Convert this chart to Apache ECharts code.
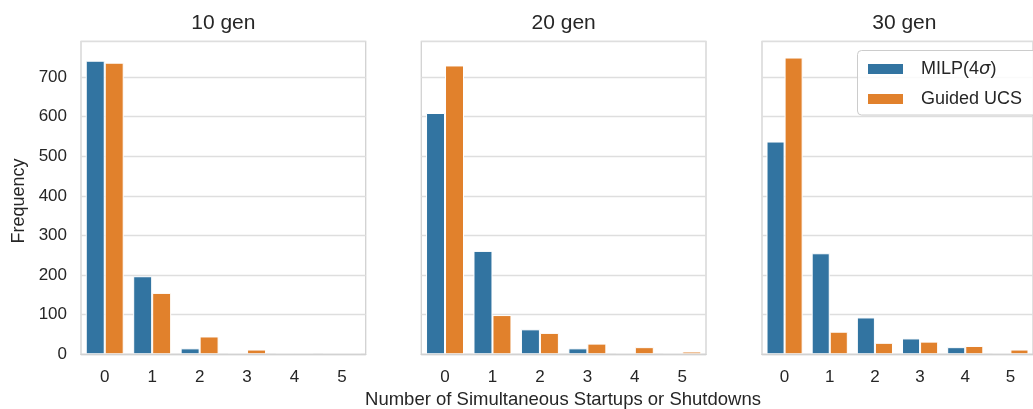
<!DOCTYPE html>
<html>
<head>
<meta charset="utf-8">
<script src="https://cdn.jsdelivr.net/npm/echarts@6/dist/echarts.min.js"></script>
<style>
  html, body { margin: 0; padding: 0; background: #ffffff; }
  #chart { width: 1033px; height: 409px; }
</style>
</head>
<body>
<div id="chart"></div>
<script>
// Number of simultaneous unit startups/shutdowns per hour
const categories = ['0', '1', '2', '3', '4', '5'];
const panelTitles = ['10 gen', '20 gen', '30 gen'];
const seriesNames = ['MILP(4σ)', 'Guided UCS'];

const milp10 = [741, 197, 15, 0, 0, 0];
const ucs10  = [736, 155, 45, 12, 0, 0];
const milp20 = [609, 261, 63, 15, 0, 0];
const ucs20  = [729, 99, 54, 27, 18, 7];
const milp30 = [537, 255, 93, 40, 18, 0];
const ucs30  = [749, 57, 29, 32, 21, 12];

const yTicks = [0, 100, 200, 300, 400, 500, 600, 700];

const panels = [
  { title: panelTitles[0], milp: milp10, ucs: ucs10 },
  { title: panelTitles[1], milp: milp20, ucs: ucs20 },
  { title: panelTitles[2], milp: milp30, ucs: ucs30 }
];

const FONT = '"Liberation Sans", Arial, sans-serif';
const TEXT = '#262626';
const GRIDLINE = '#dedede';
const SPINE = '#d2d2d2';
const COLORS = ['#3274a1', '#e1812c'];

const gridLefts = [81, 421.3, 762];
const gridWidth = 284.7;
const gridTop = 41.3;
const gridHeight = 313;

const grids = [], xAxes = [], yAxes = [], series = [], graphics = [];

panels.forEach((p, i) => {
  grids.push({
    left: gridLefts[i], top: gridTop, width: gridWidth, height: gridHeight,
    show: true, backgroundColor: '#ffffff', borderColor: SPINE, borderWidth: 1.3
  });
  xAxes.push({
    type: 'category', gridIndex: i, data: categories, z: 5,
    axisLine: { show: true, lineStyle: { color: SPINE, width: 1.3 } },
    axisTick: { show: false },
    axisLabel: { color: TEXT, fontSize: 17, fontFamily: FONT, margin: 15 },
    splitLine: { show: false }
  });
  yAxes.push({
    type: 'value', gridIndex: i, min: 0, max: 790, interval: 100,
    axisLine: { show: false }, axisTick: { show: false },
    axisLabel: {
      show: i === 0, color: TEXT, fontSize: 17, fontFamily: FONT, margin: 14,
      showMaxLabel: false,
      formatter: v => (yTicks.indexOf(v) >= 0 ? String(v) : '')
    },
    splitLine: { show: true, lineStyle: { color: GRIDLINE, width: 1.4 } }
  });
  [p.milp, p.ucs].forEach((vals, k) => {
    series.push({
      name: seriesNames[k], type: 'bar', xAxisIndex: i, yAxisIndex: i,
      data: vals, barGap: '0%', barCategoryGap: '20%',
      itemStyle: { color: COLORS[k], borderColor: '#ffffff', borderWidth: 1 },
      emphasis: { disabled: true }
    });
  });
  graphics.push({
    type: 'text', x: gridLefts[i] + gridWidth / 2, y: 23,
    style: {
      text: p.title, font: '21px ' + FONT, fill: TEXT,
      textAlign: 'center', textVerticalAlign: 'middle',
      align: 'center', verticalAlign: 'middle'
    }
  });
});

graphics.push({
  type: 'text', x: 563, y: 400,
  style: {
    text: 'Number of Simultaneous Startups or Shutdowns', font: '18.5px ' + FONT, fill: TEXT,
    textAlign: 'center', textVerticalAlign: 'middle', align: 'center', verticalAlign: 'middle'
  }
});
graphics.push({
  type: 'text', x: 19, y: 201, rotation: Math.PI / 2,
  style: {
    text: 'Frequency', font: '18px ' + FONT, fill: TEXT,
    textAlign: 'center', textVerticalAlign: 'middle', align: 'center', verticalAlign: 'middle'
  }
});
// legend frame, running past the right edge of the figure
graphics.push({
  type: 'rect', z: 3,
  shape: { x: 857.5, y: 50.5, width: 220, height: 64.5, r: 4 },
  style: { fill: 'rgba(255,255,255,0.85)', stroke: '#cccccc', lineWidth: 1 }
});

const chart = echarts.init(document.getElementById('chart'), null, { renderer: 'canvas' });
chart.setOption({
  backgroundColor: '#ffffff',
  animation: false,
  grid: grids,
  xAxis: xAxes,
  yAxis: yAxes,
  series: series,
  legend: {
    data: seriesNames,
    orient: 'vertical',
    left: 858, top: 51, z: 6,
    padding: [9, 0, 9, 8],
    itemWidth: 37, itemHeight: 12, itemGap: 12,
    icon: 'rect',
    selectedMode: false,
    formatter: name => (name === seriesNames[0] ? 'MILP(4{i|σ})' : name),
    textStyle: {
      color: TEXT, fontSize: 18, fontFamily: FONT, padding: [0, 0, 0, 12],
      rich: { i: { fontStyle: 'italic', fontSize: 18, fontFamily: '"DejaVu Sans", sans-serif', color: TEXT } }
    }
  },
  graphic: graphics
});
</script>
</body>
</html>
